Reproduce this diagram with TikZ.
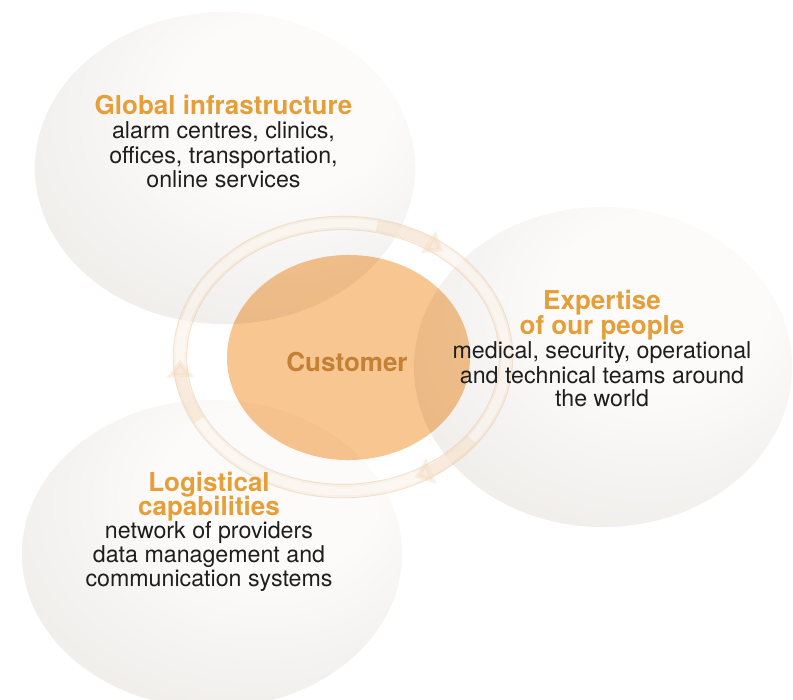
\documentclass[tikz,border=0pt]{standalone}
\usepackage{fontspec}
\setmainfont{TeX Gyre Heros}
\usetikzlibrary{shapes.geometric,arrows.meta}
\definecolor{ballin}{RGB}{252,251,250}
\definecolor{ballmid}{RGB}{237,234,231}
\definecolor{ballout}{RGB}{211,205,200}
\definecolor{peach}{RGB}{248,198,144}
\definecolor{headc}{RGB}{230,158,56}
\definecolor{custc}{RGB}{196,128,52}
\definecolor{bodyc}{RGB}{30,30,30}
\definecolor{ringc}{RGB}{242,214,182}
\definecolor{ringedgec}{RGB}{225,195,160}
\pgfdeclareradialshading{softball}{\pgfpoint{9bp}{12bp}}{color(0bp)=(ballin); color(14bp)=(ballin); color(40bp)=(ballmid); color(60bp)=(ballout); color(85bp)=(ballout)}
\tikzset{
  bigball/.style={ellipse, inner sep=0pt, outer sep=0pt, shade, shading=softball, draw=none},
  custball/.style={ellipse, inner sep=0pt, outer sep=0pt, fill=peach, draw=none},
  head/.style={font=\fontsize{18.5}{20}\selectfont\bfseries, text=headc, inner sep=0pt, anchor=base},
  body/.style={font=\fontsize{16.5}{18}\selectfont, text=bodyc, inner sep=0pt, anchor=base},
  ringbase/.style={draw=ringc, line width=0.34cm, opacity=0.3},
  ringband/.style={draw=white, line width=0.22cm, opacity=0.45},
  ringedge/.style={draw=ringedgec, line width=0.6pt, opacity=0.4},
  ringarrow/.style={draw=ringc, line width=0.3cm, opacity=0.35, -{Triangle[length=0.45cm, width=0.65cm]}}
}
\begin{document}
\begin{tikzpicture}[x=0.025cm, y=0.025cm]
\useasboundingbox (0,0) rectangle (793,699);
\fill[white] (0,0) rectangle (793,699);

% three large balls
\node[bigball, minimum width=9.5cm, minimum height=7.8cm] (tl) at (225,531) {};
\node[bigball, minimum width=9.45cm, minimum height=8.0cm] (rt) at (603,332) {};
\node[bigball, minimum width=9.5cm, minimum height=7.7cm] (bl) at (212,145) {};

% ring with arrows
\coordinate (rc) at (343,342);
\draw[ringbase] (rc) ellipse [x radius=4.075cm, y radius=3.35cm];
\draw[ringband] (rc) ellipse [x radius=4.075cm, y radius=3.35cm];
\draw[ringedge] (rc) ellipse [x radius=4.245cm, y radius=3.52cm];
\draw[ringedge] (rc) ellipse [x radius=3.905cm, y radius=3.18cm];
\foreach \a/\b in {78/52, 208/181, -38/-64}
  \draw[ringarrow] (rc) ++(\a:4.075cm and 3.35cm) arc[start angle=\a, end angle=\b, x radius=4.075cm, y radius=3.35cm];

% customer circle
\begin{scope}[blend mode=multiply]
\node[custball, minimum width=6.075cm, minimum height=5.125cm] (cu) at (348.5,341.5) {};
\end{scope}
\node[head, text=custc] (cut) at (347,328) {Customer};

% texts
\node[head] (g0) at (223.5,584) {Global infrastructure};
\node[body] (g1) at (223.5,560) {alarm centres, clinics,};
\node[body] (g2) at (223.5,535) {offices, transportation,};
\node[body] (g3) at (223.5,511) {online services};

\node[head] (e0) at (602,390) {Expertise};
\node[head] (e1) at (602,365) {of our people};
\node[body] (e2) at (602,341) {medical, security, operational};
\node[body] (e3) at (602,316) {and technical teams around};
\node[body] (e4) at (602,293) {the world};

\node[head] (l0) at (209,208) {Logistical};
\node[head] (l1) at (209,184) {capabilities};
\node[body] (l2) at (209,161) {network of providers};
\node[body] (l3) at (209,137) {data management and};
\node[body] (l4) at (209,113) {communication systems};
\end{tikzpicture}
\end{document}
